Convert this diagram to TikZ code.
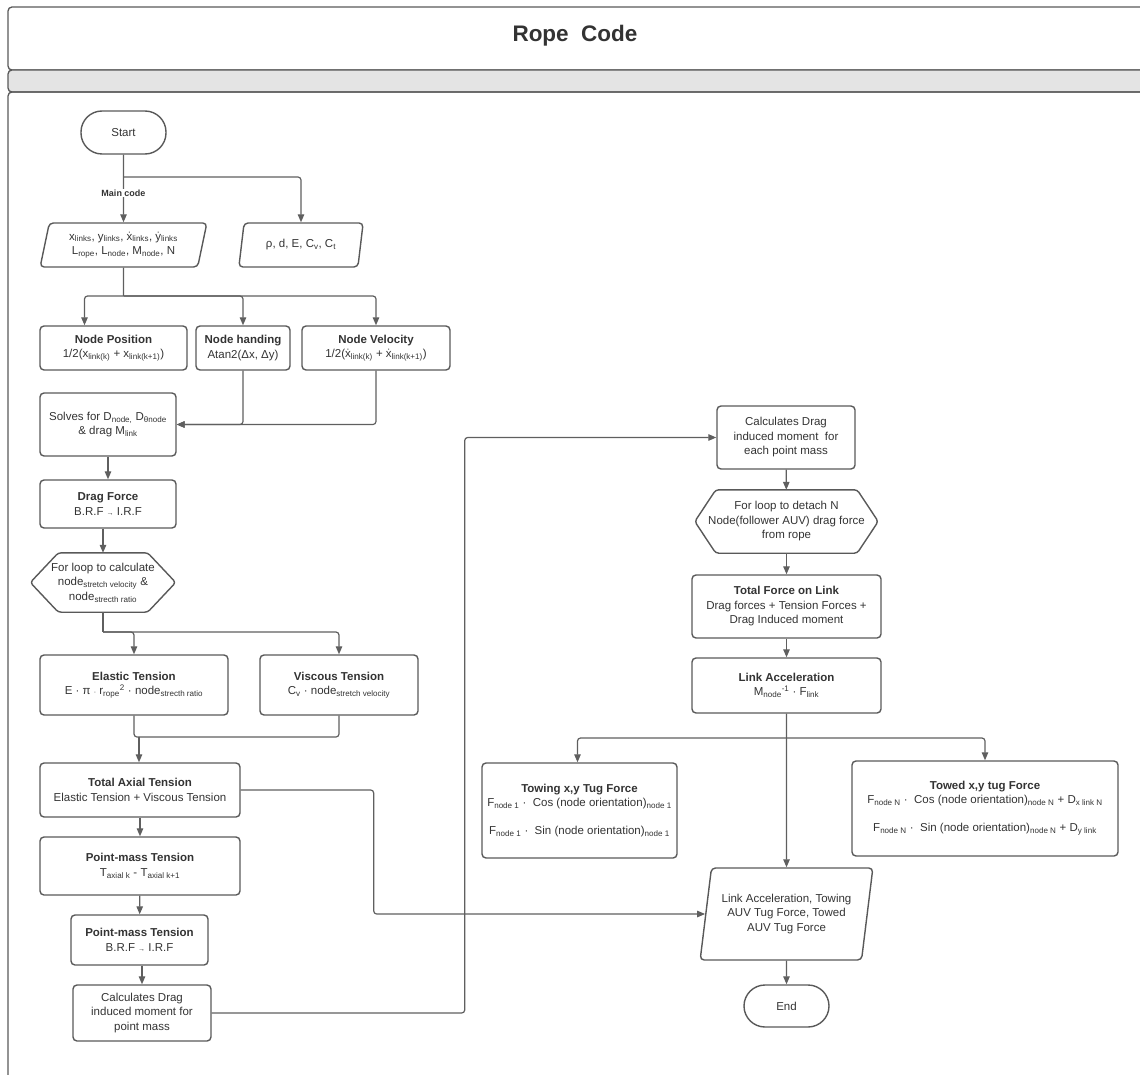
\documentclass[tikz,border=0pt]{standalone}
\usepackage{fontspec}
\setmainfont{Liberation Sans}
\usepackage{tikz}
\usetikzlibrary{arrows.meta, shapes.geometric, calc}
\definecolor{linegray}{HTML}{5F5F5F}
\definecolor{boxgray}{HTML}{595959}
\definecolor{textgray}{HTML}{333333}
\definecolor{bandgray}{HTML}{E4E4E4}
\newcommand{\lsub}[1]{\textsubscript{#1}}
\newcommand{\lsup}[1]{\textsuperscript{#1}}

\begin{document}
\begin{tikzpicture}[x=1pt, y=-1pt,
	box/.style={draw=boxgray, line width=1.4pt, rounded corners=4pt, align=center, text=textgray, inner sep=2pt, font=\fontsize{11.5}{14.5}\selectfont},
	terminal/.style={box, rounded corners=21pt},
	inout/.style={box, trapezium, trapezium left angle=77, trapezium right angle=103, trapezium stretches=true},
	loopbox/.style={align=center, text=textgray, inner sep=2pt, font=\fontsize{11.5}{14.5}\selectfont},
	hexline/.style={draw=boxgray, line width=1.4pt, rounded corners=3pt},
	frameline/.style={draw=boxgray, line width=1.3pt, rounded corners=4pt},
	link/.style={draw=linegray, line width=1.2pt, rounded corners=3pt},
	arr/.style={link, -{Triangle[length=8pt, width=6.5pt]}}
	]
	\useasboundingbox (0,0) rectangle (1140,1075);
	\clip (0,0) rectangle (1140,1075);
	
	\draw[frameline] (8,7) rectangle (1170,70);
	\draw[frameline, fill=bandgray] (8,70) rectangle (1170,92);
	\draw[frameline] (8,92) rectangle (1170,1110);
	\node[text=textgray, font=\bfseries\fontsize{22.5}{26}\selectfont] (title) at (575,36) {Rope\ \ Code};
	
	\node[terminal, minimum width=85pt, minimum height=43pt] (start) at (123.5,132.5) {Start};
	\node[inout, minimum width=167pt, minimum height=44pt] (params) at (123.5,245) {x\lsub{links}, y\lsub{links}, \.{x}\lsub{links}, \.{y}\lsub{links}\\L\lsub{rope}, L\lsub{node}, M\lsub{node}, N};
	\node[inout, minimum width=125pt, minimum height=44pt] (consts) at (301,245) {ρ, d, E, C\lsub{v}, C\lsub{t}};
	
	\node[box, minimum width=147pt, minimum height=44pt] (nodepos) at (113.5,348) {\textbf{Node Position}\\1/2(x\lsub{link(k)} + x\lsub{link(k+1)})};
	\node[box, minimum width=94pt, minimum height=44pt] (nodehead) at (243,348) {\textbf{Node handing}\\Atan2(Δx, Δy)};
	\node[box, minimum width=148pt, minimum height=44pt] (nodevel) at (376,348) {\textbf{Node Velocity}\\1/2(\.{x}\lsub{link(k)} + \.{x}\lsub{link(k+1)})};
	
	\node[box, minimum width=136pt, minimum height=63pt] (solves) at (108,424.5) {Solves for D\lsub{node,} D\lsub{θnode}\\\& drag M\lsub{link}};
	\node[box, minimum width=136pt, minimum height=48pt] (dragforce) at (108,504) {\textbf{Drag Force}\\B.R.F {\scriptsize →} I.R.F};
	\node[loopbox, minimum width=145pt, minimum height=59pt] (loop1) at (103,582.5) {For loop to calculate\\node\lsub{stretch velocity} \&\\node\lsub{strecth ratio}};
	\draw[hexline] (loop1.west) -- ([xshift=28pt]loop1.north west) -- ([xshift=-28pt]loop1.north east) -- (loop1.east) -- ([xshift=-28pt]loop1.south east) -- ([xshift=28pt]loop1.south west) -- cycle;
	
	\node[box, minimum width=188pt, minimum height=60pt] (elastic) at (134,685) {\textbf{Elastic Tension}\\E · π {\scriptsize ·} r\lsub{rope}\lsup{2} · node\lsub{strecth ratio}};
	\node[box, minimum width=158pt, minimum height=60pt] (viscous) at (339,685) {\textbf{Viscous Tension}\\C\lsub{v} · node\lsub{stretch velocity}};
	\node[box, minimum width=200pt, minimum height=54pt] (axial) at (140,790) {\textbf{Total Axial Tension}\\Elastic Tension + Viscous Tension};
	\node[box, minimum width=200pt, minimum height=58pt] (pmtension) at (140,866) {\textbf{Point-mass Tension}\\T\lsub{axial k} - T\lsub{axial k+1}};
	\node[box, minimum width=137pt, minimum height=50pt] (pmframe) at (139.5,940) {\textbf{Point-mass Tension}\\B.R.F {\scriptsize →} I.R.F};
	\node[box, minimum width=138pt, minimum height=56pt] (pmmoment) at (142,1013) {Calculates Drag\\induced moment for\\point mass};
	
	\node[box, minimum width=138pt, minimum height=63pt] (linkmoment) at (786,437.5) {Calculates Drag\\induced moment\ \ for\\each point mass};
	\node[loopbox, minimum width=183pt, minimum height=63pt] (loop2) at (786.5,521.5) {For loop to detach N\\Node(follower AUV) drag force\\from rope};
	\draw[hexline] (loop2.west) -- ([xshift=21pt]loop2.north west) -- ([xshift=-21pt]loop2.north east) -- (loop2.east) -- ([xshift=-21pt]loop2.south east) -- ([xshift=21pt]loop2.south west) -- cycle;
	\node[box, minimum width=189pt, minimum height=63pt] (totalforce) at (786.5,606.5) {\textbf{Total Force on Link}\\Drag forces + Tension Forces +\\Drag Induced moment};
	\node[box, minimum width=189pt, minimum height=55pt] (linkacc) at (786.5,685.5) {\textbf{Link Acceleration}\\M\lsub{node}\lsup{-1} · F\lsub{link}};
	
	\node[box, minimum width=195pt, minimum height=95pt, font=\fontsize{11.5}{14}\selectfont] (towing) at (579.5,810.5) {\textbf{Towing x,y Tug Force}\\F\lsub{node 1} ·\ \ Cos (node orientation)\lsub{node 1}\\[14pt]F\lsub{node 1} ·\ \ Sin (node orientation)\lsub{node 1}};
	\node[box, minimum width=266pt, minimum height=95pt, font=\fontsize{11.5}{14}\selectfont] (towed) at (985,808.5) {\textbf{Towed x,y tug Force}\\F\lsub{node N} ·\ \ Cos (node orientation)\lsub{node N} + D\lsub{x link N}\\[14pt]F\lsub{node N} ·\ \ Sin (node orientation)\lsub{node N} + D\lsub{y link}};
	\node[inout, minimum width=173pt, minimum height=92pt] (results) at (786.5,914) {Link Acceleration, Towing\\AUV Tug Force, Towed\\AUV Tug Force};
	\node[terminal, minimum width=85pt, minimum height=42pt] (endnode) at (786.5,1006) {End};
	
	\coordinate (split1) at (123.5,177);
	\coordinate (split2) at (123.5,296);
	\coordinate (split3) at (103,632);
	\coordinate (merge1) at (139,737);
	\coordinate (split4) at (786.5,738);
	
	\draw[arr] (start) -- (params);
	\draw[arr] (split1) -| (consts.north);
	\draw[link] (params.south) -- (split2);
	\draw[arr] (split2) -| ([xshift=-29pt]nodepos.north);
	\draw[arr] (split2) -| (nodehead.north);
	\draw[arr] (split2) -| (nodevel.north);
	\draw[arr] (nodehead.south) |- (solves.east);
	\draw[arr] (nodevel.south) |- (solves.east);
	\draw[arr] (solves) -- (dragforce);
	\draw[arr] (dragforce.south -| loop1.north) -- (loop1.north);
	\draw[link] (loop1.south) -- (split3);
	\draw[arr] (split3) -| (elastic.north);
	\draw[arr] (split3) -| (viscous.north);
	\draw[link] (elastic.south) |- (merge1);
	\draw[link] (viscous.south) |- (merge1);
	\draw[arr] (merge1) -- (merge1 |- axial.north);
	\draw[arr] (axial) -- (pmtension);
	\draw[arr] (pmtension) -- (pmframe);
	\draw[arr] (pmframe.south -| pmmoment.north) -- (pmmoment.north);
	\draw[arr] (axial.east) -- ++(133,0) |- (results.west);
	\draw[arr] (pmmoment.east) -- ++(253,0) |- (linkmoment.west);
	\draw[arr] (linkmoment) -- (loop2);
	\draw[arr] (loop2) -- (totalforce);
	\draw[arr] (totalforce) -- (linkacc);
	\draw[arr] (linkacc.south) -- (results.north);
	\draw[arr] (split4) -| ([xshift=-2pt]towing.north);
	\draw[arr] (split4) -| (towed.north);
	\draw[arr] (results.south) -- (endnode.north);
	
	\node[fill=white, inner sep=1pt, text=textgray, font=\bfseries\fontsize{9}{10}\selectfont] (maincode) at (123.5,193) {Main code};
\end{tikzpicture}
\end{document}
